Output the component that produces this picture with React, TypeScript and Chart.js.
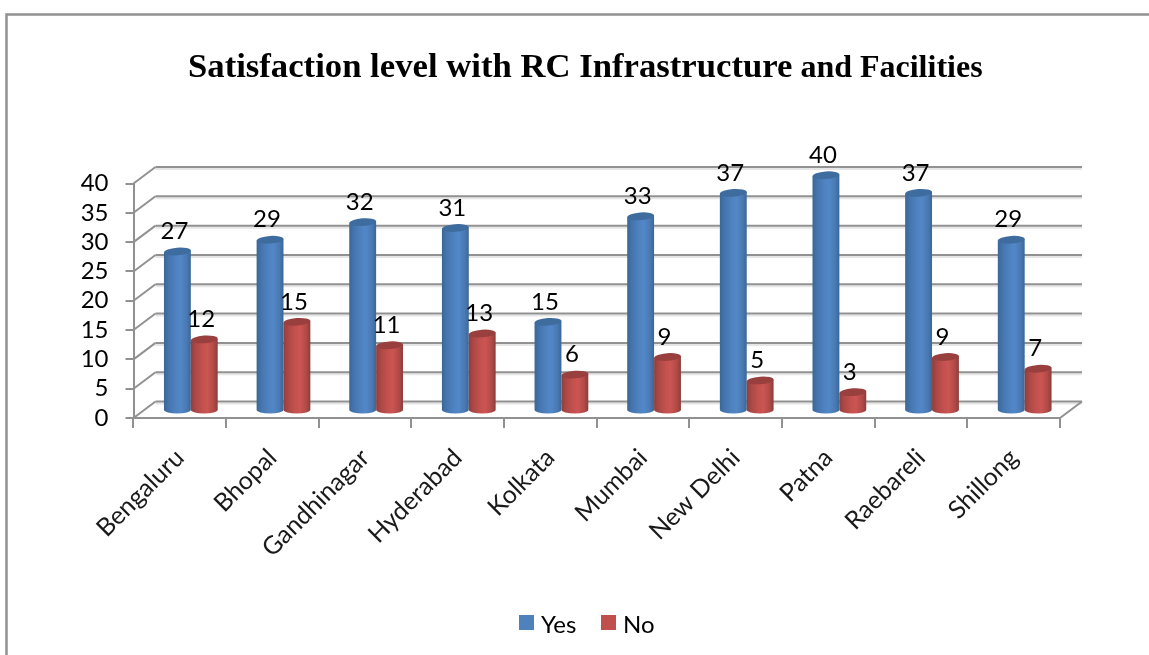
import React, { useEffect, useRef } from "react";
import { Chart, registerables } from "chart.js";

Chart.register(...registerables);

const categories = ["Bengaluru", "Bhopal", "Gandhinagar", "Hyderabad", "Kolkata", "Mumbai", "New Delhi", "Patna", "Raebareli", "Shillong"];
const yesValues = [27, 29, 32, 31, 15, 33, 37, 40, 37, 29];
const noValues = [12, 15, 11, 13, 6, 9, 5, 3, 9, 7];
const titleMain = "Satisfaction level with RC Infrastructure";
const titleTail = " and Facilities";

const FONT = "Lato, Carlito, sans-serif";
const GREY = "#919191";
const DEPTH_X = 22;
const DEPTH_Y = 16.5;

const palettes = [
  { stops: ["#3a6796", "#4575af", "#4f82c0", "#5287c8", "#4a79b2", "#3a6796"], top: "#3f6c9f" },
  { stops: ["#8f3f3d", "#ad4846", "#c4524f", "#cb5552", "#b04a47", "#8a3d3b"], top: "#993f3d" },
];

const scene = {
  id: "scene",
  beforeDraw(chart: any) {
    const ctx = chart.ctx;
    ctx.save();
    ctx.strokeStyle = GREY;
    ctx.lineWidth = 2.5;
    ctx.strokeRect(6.5, 14.5, 1300, 800);
    ctx.fillStyle = "#000";
    ctx.textBaseline = "alphabetic";
    ctx.textAlign = "left";
    ctx.font = "bold 34.7px 'Liberation Serif'";
    const a = ctx.measureText(titleMain).width;
    ctx.fillText(titleMain, 188, 77);
    ctx.font = "bold 32px 'Liberation Serif'";
    ctx.fillText(titleTail, 188 + a, 77);
    ctx.restore();
  },
  beforeDatasetsDraw(chart: any) {
    const { ctx, chartArea: ca, scales } = chart;
    const y = scales.y;
    ctx.save();
    const line = (x1: number, y1: number, x2: number, y2: number) => {
      ctx.beginPath();
      ctx.moveTo(x1, y1);
      ctx.lineTo(x2, y2);
      ctx.stroke();
    };
    y.ticks.forEach((t: any) => {
      const py = y.getPixelForValue(t.value);
      ctx.strokeStyle = "#e6e6e6";
      ctx.lineWidth = 2;
      line(ca.left + DEPTH_X, py - DEPTH_Y + 2, ca.right + DEPTH_X, py - DEPTH_Y + 2);
      ctx.strokeStyle = GREY;
      line(ca.left + DEPTH_X, py - DEPTH_Y, ca.right + DEPTH_X, py - DEPTH_Y);
      line(ca.left, py, ca.left + DEPTH_X, py - DEPTH_Y);
    });
    line(ca.right, ca.bottom, ca.right + DEPTH_X, ca.bottom - DEPTH_Y);
    ctx.restore();
  },
  beforeDatasetDraw() {
    return false;
  },
  afterDatasetsDraw(chart: any) {
    const { ctx, scales } = chart;
    const dx = DEPTH_X / 2;
    const dy = DEPTH_Y / 2;
    const tilt = -0.07;
    ctx.save();
    chart.data.datasets.forEach((ds: any, di: number) => {
      const pal = palettes[di];
      chart.getDatasetMeta(di).data.forEach((bar: any) => {
        const cx = bar.x + dx;
        const rx = bar.width / 2;
        const ry = 3.8;
        const top = bar.y - dy;
        const base = scales.y.getPixelForValue(0) - dy;
        const g = ctx.createLinearGradient(cx - rx, 0, cx + rx, 0);
        const at = [0, 0.18, 0.45, 0.62, 0.85, 1];
        pal.stops.forEach((c: string, i: number) => g.addColorStop(at[i], c));
        ctx.fillStyle = g;
        ctx.beginPath();
        ctx.moveTo(cx - rx, top + 1);
        ctx.lineTo(cx - rx, base);
        ctx.ellipse(cx, base, rx, ry, 0, Math.PI, 0, true);
        ctx.lineTo(cx + rx, top - 1);
        ctx.closePath();
        ctx.fill();
        ctx.fillStyle = pal.top;
        ctx.beginPath();
        ctx.ellipse(cx, top, rx, ry, tilt, 0, Math.PI * 2);
        ctx.fill();
      });
    });
    ctx.fillStyle = "#000";
    ctx.font = `24px ${FONT}`;
    ctx.textAlign = "center";
    ctx.textBaseline = "middle";
    chart.data.datasets.forEach((ds: any, di: number) => {
      chart.getDatasetMeta(di).data.forEach((bar: any, i: number) => {
        ctx.fillText(String(ds.data[i]), bar.x + dx - 3, bar.y - dy - 20);
      });
    });
    // legend
    const boxX = [519, 601];
    ctx.textAlign = "left";
    chart.data.datasets.forEach((ds: any, di: number) => {
      ctx.fillStyle = ds.backgroundColor;
      ctx.fillRect(boxX[di], 615, 15, 15);
      ctx.fillStyle = "#000";
      ctx.fillText(ds.label, boxX[di] + 22, 625);
    });
    ctx.restore();
  },
};

export default function App() {
  const ref = useRef<HTMLCanvasElement>(null);
  useEffect(() => {
    const chart = new Chart(ref.current as HTMLCanvasElement, {
      type: "bar",
      data: {
        labels: categories,
        datasets: [
          { label: "Yes", data: yesValues, backgroundColor: "#4f81bd", borderWidth: 0 },
          { label: "No", data: noValues, backgroundColor: "#c0504d", borderWidth: 0 },
        ],
      },
      options: {
        responsive: false,
        animation: false,
        devicePixelRatio: 1,
        layout: { padding: { top: 183.5, right: 89, bottom: 0, left: 0 } },
        datasets: { bar: { barPercentage: 1, categoryPercentage: 0.58 } },
        scales: {
          x: {
            afterFit: (s: any) => { s.height = 237; },
            border: { color: GREY, width: 2 },
            grid: { display: true, drawOnChartArea: false, color: GREY, lineWidth: 2, tickLength: 10 },
            ticks: { color: "#1a1a1a", font: { family: FONT, size: 25 }, minRotation: 45, maxRotation: 45, padding: 15, autoSkip: false },
          },
          y: {
            min: 0,
            max: 40,
            afterFit: (s: any) => { s.width = 133.5; },
            border: { color: GREY, width: 2 },
            grid: { display: true, drawOnChartArea: false, color: GREY, lineWidth: 2, tickLength: 8 },
            ticks: { stepSize: 5, autoSkip: false, color: "#000", font: { family: FONT, size: 24 }, padding: 17 },
          },
        },
        plugins: {
          title: { display: false },
          tooltip: { enabled: false },
          legend: { display: false },
        },
      },
      plugins: [scene],
    } as any);
    return () => chart.destroy();
  }, []);
  return (
    <div style={{ position: "fixed", left: 0, top: 0, width: 1149, height: 655, background: "#fff", overflow: "hidden" }}>
      <canvas ref={ref} width={1149} height={655} style={{ display: "block" }} />
    </div>
  );
}
